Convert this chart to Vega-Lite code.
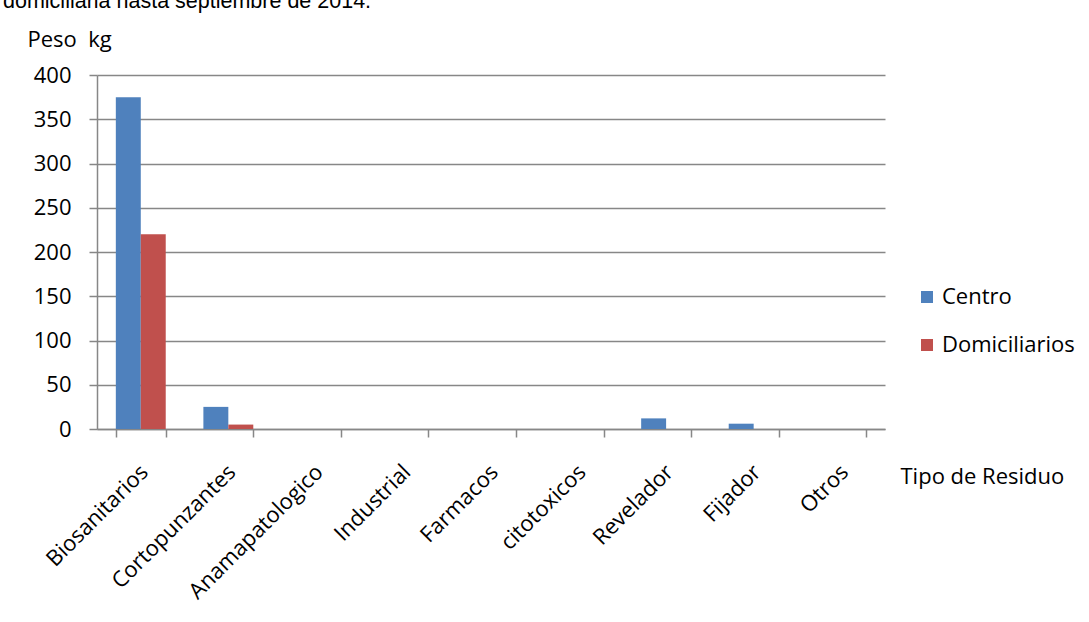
{
  "$schema": "https://vega.github.io/schema/vega-lite/v6.json",
  "autosize": "none",
  "width": 788,
  "height": 354,
  "padding": {"left": 97, "top": 75, "right": 204, "bottom": 193},
  "background": "white",
  "title": {
    "text": "domiciliaria hasta septiembre de 2014.",
    "anchor": "start",
    "frame": "bounds",
    "font": "Liberation Sans",
    "fontSize": 21.5,
    "fontWeight": "normal",
    "color": "#000000",
    "baseline": "alphabetic",
    "offset": 6,
    "dy": 7,
    "dx": -24
  },
  "data": {
    "values": [
      {"tipo": "Biosanitarios", "serie": "Centro", "peso": 375},
      {"tipo": "Biosanitarios", "serie": "Domiciliarios", "peso": 220},
      {"tipo": "Cortopunzantes", "serie": "Centro", "peso": 25},
      {"tipo": "Cortopunzantes", "serie": "Domiciliarios", "peso": 5},
      {"tipo": "Anamapatologico", "serie": "Centro", "peso": 0},
      {"tipo": "Anamapatologico", "serie": "Domiciliarios", "peso": 0},
      {"tipo": "Industrial", "serie": "Centro", "peso": 0},
      {"tipo": "Industrial", "serie": "Domiciliarios", "peso": 0},
      {"tipo": "Farmacos", "serie": "Centro", "peso": 0},
      {"tipo": "Farmacos", "serie": "Domiciliarios", "peso": 0},
      {"tipo": "citotoxicos", "serie": "Centro", "peso": 0},
      {"tipo": "citotoxicos", "serie": "Domiciliarios", "peso": 0},
      {"tipo": "Revelador", "serie": "Centro", "peso": 12},
      {"tipo": "Revelador", "serie": "Domiciliarios", "peso": 0},
      {"tipo": "Fijador", "serie": "Centro", "peso": 6},
      {"tipo": "Fijador", "serie": "Domiciliarios", "peso": 0},
      {"tipo": "Otros", "serie": "Centro", "peso": 0},
      {"tipo": "Otros", "serie": "Domiciliarios", "peso": 0}
    ]
  },
  "mark": {"type": "bar", "stroke": null},
  "encoding": {
    "x": {
      "field": "tipo",
      "type": "nominal",
      "sort": null,
      "scale": {"paddingInner": 0.43, "paddingOuter": 0.215},
      "axis": {
        "title": "Tipo de Residuo",
        "titleX": 803,
        "titleY": 54,
        "titleAlign": "left",
        "titleBaseline": "alphabetic",
        "labelAngle": -45,
        "labelAlign": "right",
        "labelBaseline": "top",
        "labelPadding": 24,
        "labelOffset": -4,
        "tickBand": "extent",
        "tickSize": 8,
        "grid": false
      }
    },
    "xOffset": {"field": "serie", "type": "nominal", "scale": {"padding": 0}},
    "y": {
      "field": "peso",
      "type": "quantitative",
      "scale": {"domain": [0, 400], "nice": false},
      "axis": {
        "values": [0, 50, 100, 150, 200, 250, 300, 350, 400],
        "title": "Peso\u00a0 kg",
        "titleAngle": 0,
        "titleX": -70,
        "titleY": -29,
        "titleAlign": "left",
        "titleBaseline": "alphabetic",
        "tickSize": 8,
        "labelPadding": 18,
        "grid": true
      }
    },
    "color": {
      "field": "serie",
      "type": "nominal",
      "scale": {"domain": ["Centro", "Domiciliarios"], "range": ["#4F81BD", "#C0504D"]},
      "legend": {
        "title": null,
        "orient": "none",
        "legendX": 819,
        "legendY": 211,
        "symbolType": "square",
        "symbolSize": 144,
        "symbolStrokeWidth": 0,
        "rowPadding": 26,
        "labelOffset": 4
      }
    }
  },
  "config": {
    "view": {"stroke": null},
    "font": "Open Sans",
    "axis": {
      "labelFont": "Open Sans",
      "titleFont": "Open Sans",
      "labelFontSize": 22,
      "titleFontSize": 22,
      "titleFontWeight": "normal",
      "labelColor": "#000000",
      "titleColor": "#000000",
      "domainColor": "#878787",
      "domainWidth": 1.5,
      "tickColor": "#878787",
      "tickWidth": 1.5,
      "gridColor": "#878787",
      "gridWidth": 1.5,
      "gridOpacity": 1
    },
    "legend": {
      "labelFont": "Open Sans",
      "labelFontSize": 22,
      "labelColor": "#000000"
    }
  }
}
